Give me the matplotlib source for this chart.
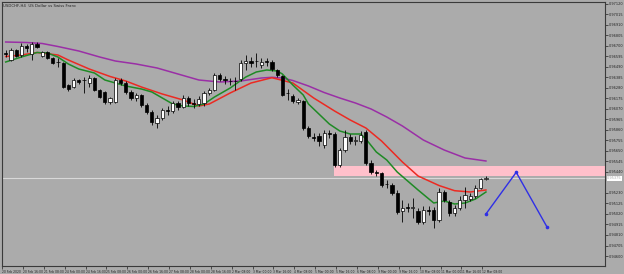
import matplotlib
matplotlib.use("Agg")
import matplotlib.pyplot as plt
import numpy as np

# H4 candles (prices)
opens = [0.96630, 0.96560, 0.96655, 0.96610, 0.96700, 0.96620, 0.96720, 0.96595, 0.96635, 0.96580,
         0.96540, 0.96530, 0.96310, 0.96290, 0.96360, 0.96360, 0.96330, 0.96380, 0.96260, 0.96240,
         0.96140, 0.96140, 0.96360, 0.96330, 0.96240, 0.96180, 0.96210, 0.96110, 0.96040, 0.95930,
         0.95980, 0.96060, 0.96050, 0.96130, 0.96090, 0.96180, 0.96130, 0.96120, 0.96130, 0.96230,
         0.96260, 0.96410, 0.96365, 0.96350, 0.96345, 0.96370, 0.96525, 0.96545, 0.96550, 0.96510,
         0.96545, 0.96540, 0.96460, 0.96400, 0.96230, 0.96195, 0.96140, 0.96150, 0.95880, 0.95785,
         0.95800, 0.95710, 0.95830, 0.95820, 0.95510, 0.95660, 0.95790, 0.95750, 0.95750, 0.95840,
         0.95530, 0.95440, 0.95430, 0.95315, 0.95310, 0.95230, 0.95050, 0.95090, 0.95080, 0.95050,
         0.94940, 0.95060, 0.95060, 0.94960, 0.95240, 0.95140, 0.95030, 0.95080, 0.95160, 0.95170,
         0.95200, 0.95280, 0.95370]
highs = [0.96660, 0.96680, 0.96670, 0.96730, 0.96720, 0.96743, 0.96740, 0.96650, 0.96650, 0.96590,
         0.96580, 0.96540, 0.96320, 0.96380, 0.96370, 0.96390, 0.96410, 0.96390, 0.96270, 0.96250,
         0.96190, 0.96380, 0.96380, 0.96350, 0.96260, 0.96230, 0.96220, 0.96130, 0.96060, 0.96010,
         0.96080, 0.96100, 0.96150, 0.96150, 0.96210, 0.96200, 0.96170, 0.96200, 0.96250, 0.96280,
         0.96430, 0.96430, 0.96400, 0.96380, 0.96390, 0.96560, 0.96610, 0.96590, 0.96630, 0.96580,
         0.96580, 0.96560, 0.96470, 0.96410, 0.96270, 0.96220, 0.96180, 0.96160, 0.95900, 0.95830,
         0.95830, 0.95860, 0.95860, 0.95840, 0.95680, 0.95860, 0.95820, 0.95800, 0.95850, 0.95860,
         0.95560, 0.95460, 0.95440, 0.95360, 0.95330, 0.95260, 0.95160, 0.95130, 0.95180, 0.95080,
         0.95100, 0.95100, 0.95090, 0.95280, 0.95260, 0.95160, 0.95110, 0.95200, 0.95290, 0.95230,
         0.95310, 0.95380, 0.95400]
lows = [0.96590, 0.96550, 0.96590, 0.96590, 0.96640, 0.96560, 0.96680, 0.96590, 0.96570, 0.96520,
        0.96490, 0.96280, 0.96250, 0.96280, 0.96320, 0.96230, 0.96290, 0.96250, 0.96180, 0.96120,
        0.96120, 0.96130, 0.96310, 0.96220, 0.96160, 0.96150, 0.96090, 0.96020, 0.95910, 0.95880,
        0.95960, 0.96010, 0.96030, 0.96060, 0.96080, 0.96100, 0.96080, 0.96100, 0.96100, 0.96210,
        0.96250, 0.96350, 0.96320, 0.96310, 0.96260, 0.96350, 0.96460, 0.96490, 0.96490, 0.96480,
        0.96500, 0.96450, 0.96390, 0.96200, 0.96160, 0.96130, 0.96120, 0.95860, 0.95780, 0.95750,
        0.95700, 0.95680, 0.95780, 0.95490, 0.95490, 0.95640, 0.95720, 0.95710, 0.95730, 0.95510,
        0.95420, 0.95400, 0.95290, 0.95280, 0.95210, 0.95020, 0.94940, 0.95040, 0.94980, 0.94920,
        0.94920, 0.95010, 0.94880, 0.94940, 0.95140, 0.95000, 0.95000, 0.95060, 0.95080, 0.95150,
        0.95180, 0.95270, 0.95360]
closes = [0.96620, 0.96660, 0.96600, 0.96700, 0.96675, 0.96720, 0.96685, 0.96635, 0.96580, 0.96530,
          0.96535, 0.96290, 0.96270, 0.96360, 0.96340, 0.96355, 0.96380, 0.96260, 0.96190, 0.96140,
          0.96175, 0.96360, 0.96330, 0.96240, 0.96180, 0.96210, 0.96110, 0.96040, 0.95940, 0.95980,
          0.96060, 0.96050, 0.96130, 0.96090, 0.96180, 0.96130, 0.96120, 0.96170, 0.96230, 0.96260,
          0.96410, 0.96370, 0.96360, 0.96345, 0.96350, 0.96530, 0.96545, 0.96525, 0.96545, 0.96543,
          0.96540, 0.96470, 0.96410, 0.96210, 0.96225, 0.96145, 0.96155, 0.95880, 0.95795, 0.95780,
          0.95750, 0.95830, 0.95820, 0.95510, 0.95660, 0.95790, 0.95750, 0.95760, 0.95810, 0.95530,
          0.95440, 0.95425, 0.95310, 0.95320, 0.95230, 0.95040, 0.95080, 0.95075, 0.95085, 0.94940,
          0.95060, 0.95050, 0.94960, 0.95240, 0.95160, 0.95030, 0.95080, 0.95160, 0.95210, 0.95200,
          0.95280, 0.95370, 0.95375]

# moving averages, read at sampled bars
ma_slow_idx = [0, 4, 7, 10, 14, 18, 21, 25, 29, 33, 37, 41, 45, 49, 51, 53, 55, 58, 61, 64, 67, 70,
               73, 76, 80, 84, 88, 92]
ma_slow = [0.96740, 0.96735, 0.96725, 0.96695, 0.96650, 0.96590, 0.96550, 0.96520, 0.96480, 0.96420,
           0.96360, 0.96340, 0.96350, 0.96380, 0.96387, 0.96380, 0.96355, 0.96300, 0.96235, 0.96180,
           0.96130, 0.96070, 0.95990, 0.95900, 0.95760, 0.95660, 0.95580, 0.95550]
ma_mid_idx = [0, 3, 6, 10, 12, 16, 20, 23, 26, 30, 34, 37, 39, 43, 47, 51, 55, 59, 63, 66, 69, 72,
              76, 79, 83, 86, 89, 92]
ma_mid = [0.96595, 0.96610, 0.96635, 0.96610, 0.96560, 0.96470, 0.96395, 0.96350, 0.96290, 0.96220,
          0.96160, 0.96100, 0.96120, 0.96230, 0.96330, 0.96383, 0.96330, 0.96180, 0.96050, 0.95960,
          0.95880, 0.95750, 0.95540, 0.95400, 0.95305, 0.95253, 0.95240, 0.95260]
ma_fast_idx = [0, 3, 6, 8, 10, 12, 14, 17, 19, 21, 23, 26, 28, 30, 32, 34, 36, 38, 40, 43, 46, 48,
               50, 52, 53, 55, 57, 58, 60, 62, 64, 66, 68, 69, 71, 73, 75, 77, 79, 82, 84, 86, 88,
               90, 92]
ma_fast = [0.96540, 0.96590, 0.96635, 0.96630, 0.96590, 0.96520, 0.96470, 0.96430, 0.96360, 0.96330,
           0.96300, 0.96270, 0.96240, 0.96180, 0.96120, 0.96100, 0.96095, 0.96120, 0.96190, 0.96280,
           0.96390, 0.96440, 0.96460, 0.96450, 0.96420, 0.96310, 0.96210, 0.96120, 0.96020, 0.95920,
           0.95850, 0.95820, 0.95820, 0.95770, 0.95640, 0.95560, 0.95440, 0.95350, 0.95260, 0.95130,
           0.95150, 0.95120, 0.95130, 0.95170, 0.95240]

# resistance zone and projected path
zone_start = 62.9
zone_top = 0.95495
zone_bottom = 0.95403
bid = 0.95375
path_x = [92.0, 97.8, 103.7]
path_y = [0.95020, 0.95437, 0.94890]

title = "USDCHF,H4  US Dollar vs Swiss Franc"
y_ticks = [0.97120, 0.97015, 0.96910, 0.96805, 0.96700, 0.96595, 0.96490, 0.96385, 0.96280,
           0.96175, 0.96070, 0.95965, 0.95860, 0.95755, 0.95650, 0.95545, 0.95440, 0.95230,
           0.95125, 0.95020, 0.94915, 0.94810, 0.94705, 0.94600]
x_labels = ["20 Feb 2020", "20 Feb 16:00", "21 Feb 08:00", "24 Feb 00:00", "24 Feb 16:00",
            "25 Feb 08:00", "26 Feb 00:00", "26 Feb 16:00", "27 Feb 08:00", "28 Feb 00:00",
            "28 Feb 16:00", "2 Mar 08:00", "3 Mar 00:00", "3 Mar 16:00", "4 Mar 08:00",
            "5 Mar 00:00", "5 Mar 16:00", "6 Mar 08:00", "9 Mar 00:00", "9 Mar 16:00",
            "10 Mar 08:00", "11 Mar 00:00", "11 Mar 16:00", "12 Mar 08:00"]

bg = "#ababab"
fig = plt.figure(figsize=(6.24, 2.74), dpi=100, facecolor=bg)
ax = fig.add_axes([2 / 624, 8 / 274, 603 / 624, 264 / 274], facecolor=bg)

x = np.arange(len(opens))
o = np.array(opens)
c = np.array(closes)
up = c >= o

ax.vlines(x, lows, highs, color="black", lw=0.6, zorder=3)
body = np.where(np.abs(c - o) < 0.00003, 0.00003, c - o)
ax.bar(x[up], body[up], bottom=o[up], width=0.62, color="white",
       edgecolor="black", lw=0.5, zorder=4)
ax.bar(x[~up], body[~up], bottom=o[~up], width=0.62, color="black",
       edgecolor="black", lw=0.5, zorder=4)

ax.plot(ma_slow_idx, ma_slow, color="#9a2fa6", lw=1.1, zorder=2)
ax.plot(ma_mid_idx, ma_mid, color="#ec2a22", lw=1.1, zorder=2)
ax.plot(ma_fast_idx, ma_fast, color="#1f8a25", lw=1.1, zorder=2)

ax.fill_between([zone_start, 120], zone_bottom, zone_top, color="#ffc0cb", lw=0, zorder=1)
ax.axhline(bid, color="#d8d8d8", lw=0.8, zorder=1)
ax.plot(path_x, path_y, color="#2f2fe6", lw=1.0, marker="o", ms=1.6, zorder=5)

xl = (2 - 5.7) / 5.22
ax.set_xlim(xl, xl + 603 / 5.22)
ax.set_ylim(0.97160 - 0.0266, 0.97160 - 0.0002)

ax.yaxis.tick_right()
ax.set_yticks(y_ticks)
ax.set_yticklabels(["%.5f" % v for v in y_ticks])
ax.tick_params(axis="y", length=2, width=0.5, pad=0.6, labelsize=2.5, colors="#222222")
ax.set_xticks(np.arange(len(x_labels)) * 4 - 0.7)
ax.set_xticklabels(x_labels, ha="left")
ax.tick_params(axis="x", length=2, width=0.5, pad=0.6, labelsize=2.2, colors="#222222")
for s in ax.spines.values():
    s.set_color("#3a3a3a")
    s.set_linewidth(0.8)

ax.text(0.002, 0.992, title, transform=ax.transAxes, fontsize=2.8, va="top", ha="left",
        color="#222222")
ax.annotate("%.5f" % bid, xy=(1.0, bid), xycoords=("axes fraction", "data"),
            xytext=(1.5, 0), textcoords="offset points", fontsize=2.5, va="center", ha="left",
            color="#ababab", bbox=dict(boxstyle="square,pad=0.15", fc="white", ec="none"))

fig.savefig("out.png", dpi=100, facecolor=bg)
